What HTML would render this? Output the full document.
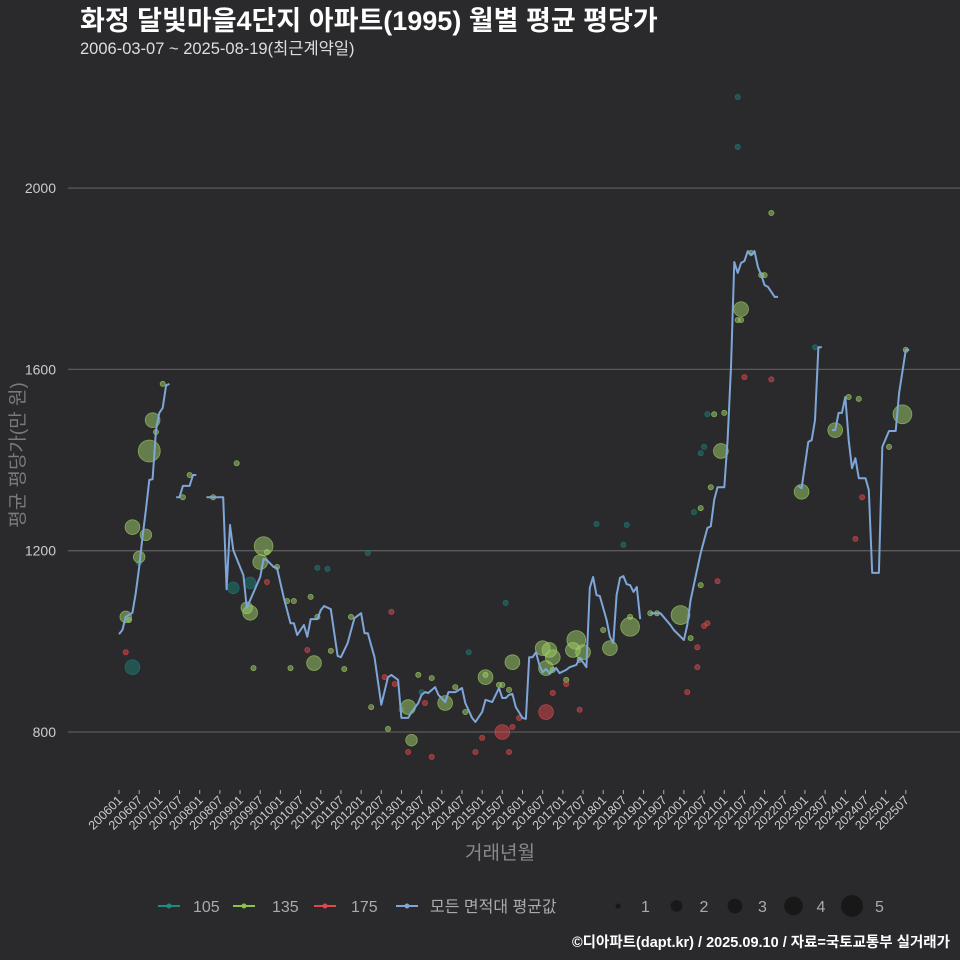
<!DOCTYPE html>
<html><head><meta charset="utf-8">
<style>
html,body{margin:0;padding:0;background:#2a2a2c;}
svg{display:block;font-family:"Liberation Sans","Noto Sans CJK KR",sans-serif;}
</style></head>
<body>
<svg id="chart" width="960" height="960" viewBox="0 0 960 960">
<rect width="960" height="960" fill="#2a2a2c"/>
<text x="80" y="30" fill="#ffffff" font-size="27" font-weight="bold">화정 달빛마을4단지 아파트(1995) 월별 평균 평당가</text>
<text x="80" y="54" fill="#dddddd" font-size="16.5">2006-03-07 ~ 2025-08-19(최근계약일)</text>
<g id="grid"></g>
<g id="bubbles"></g>
<g id="line"></g>
<g id="xaxis"></g>
<text x="24" y="455" fill="#7a7a7a" font-size="19" text-anchor="middle" transform="rotate(-90 24 455)">평균 평당가(만 원)</text>
<text x="500" y="859" fill="#8a8a8a" font-size="19" text-anchor="middle">거래년월</text>
<g>
  <g>
    <line x1="158" y1="906" x2="180" y2="906" stroke="#1f8a80" stroke-width="2"/><circle cx="169" cy="906" r="2.5" fill="#1f8a80"/>
    <text x="193" y="912" fill="#aaaaaa" font-size="16">105</text></g>
  <g>
    <line x1="233" y1="906" x2="255" y2="906" stroke="#8bc34a" stroke-width="2"/><circle cx="244" cy="906" r="2.5" fill="#8bc34a"/>
    <text x="272" y="912" fill="#aaaaaa" font-size="16">135</text></g>
  <g>
    <line x1="314" y1="906" x2="336" y2="906" stroke="#e0474c" stroke-width="2"/><circle cx="325" cy="906" r="2.5" fill="#e0474c"/>
    <text x="351" y="912" fill="#aaaaaa" font-size="16">175</text></g>
  <g>
    <line x1="396" y1="906" x2="418" y2="906" stroke="#7ea6d8" stroke-width="2"/><circle cx="407" cy="906" r="2.5" fill="#7ea6d8"/>
    <text x="430" y="912" fill="#aaaaaa" font-size="16">모든 면적대 평균값</text></g>
</g>
<g id="sizelegend"></g>
<text x="950" y="947" fill="#ffffff" font-size="14.5" font-weight="bold" text-anchor="end">©디아파트(dapt.kr) / 2025.09.10 / 자료=국토교통부 실거래가</text>
</svg>
<script>
// ---- data ----
const yTicks = [800, 1200, 1600, 2000];
const xTickLabels = ["200601","200607","200701","200707","200801","200807","200901","200907","201001","201007","201101","201107","201201","201207","201301","201307","201401","201407","201501","201507","201601","201607","201701","201707","201801","201807","201901","201907","202001","202007","202101","202107","202201","202207","202301","202307","202401","202407","202501","202507"];
// average line segments: [monthIndex from 2006-01, value]
const lineSeg1 = [[0,1016],[1,1025],[2,1054],[4,1063],[5,1107],[6,1164],[7,1230],[8,1290],[9,1356],[10,1358],[11,1466],[12,1504],[13,1515],[14,1565],[15,1568]];
const lineSeg2 = [[17,1318],[18,1318],[19,1343],[21,1343],[22,1367],[23,1367]];
const lineSeg3 = [[26,1318],[31,1318],[32,1115],[33,1257],[34,1201],[37,1146],[38,1074],[42,1142],[43,1182],[44,1179],[46,1164],[47,1162],[49,1096],[51,1040],[52,1040],[53,1014],[55,1036],[56,1010],[57,1049],[59,1049],[60,1069],[61,1078],[63,1071],[65,968],[66,965],[68,996],[70,1051],[72,1062],[73,1018],[74,1018],[76,965],[78,860],[80,921],[81,926],[83,915],[84,831],[86,831],[87,844],[89,864],[90,882],[91,888],[92,886],[94,899],[95,882],[97,866],[98,888],[100,888],[102,897],[103,864],[105,831],[106,822],[108,844],[109,871],[111,866],[113,897],[114,875],[115,875],[116,882],[117,884],[118,855],[120,831],[121,829],[122,965],[123,965],[124,976],[125,948],[126,932],[127,939],[128,930],[130,941],[131,930],[133,937],[134,943],[136,948],[137,963],[138,954],[139,943],[140,1118],[141,1142],[142,1102],[143,1100],[145,1047],[146,1010],[147,996],[148,1102],[149,1140],[150,1144],[151,1126],[152,1124],[153,1109],[154,1120],[155,1049]];
const lineSeg4 = [[158,1062],[161,1062],[164,1036],[165,1025],[168,1003],[169,1036],[170,1091],[173,1195],[175,1250],[176,1254],[177,1312],[178,1340],[180,1340],[181,1444],[182,1605],[183,1837],[184,1813],[185,1835],[186,1839],[187,1861],[188,1852],[189,1861],[190,1826],[191,1808],[192,1786],[193,1782],[195,1760],[196,1760]];
const lineSeg5 = [[202,1343],[203,1338],[205,1440],[206,1444],[207,1488],[208,1649],[209,1649]];
const lineSeg6 = [[212,1466],[213,1466],[214,1504],[215,1504],[216,1539],[217,1444],[218,1382],[219,1404],[220,1360],[222,1360],[223,1334],[224,1151],[226,1151],[227,1429],[229,1464],[231,1464],[232,1548],[234,1643],[235,1643]];
const lineSegments = [lineSeg1,lineSeg2,lineSeg3,lineSeg4,lineSeg5,lineSeg6];
// bubbles: [monthIndex, value, count]
const pts105 = [[4,943,3],[6,1173,1],[34,1118,2],[39,1129,2],[59,1162,1],[62,1160,1],[74,1195,1],[90,888,1],[84,849,1],[104,976,1],[115,1085,1],[142,1259,1],[151,1257,1],[150,1213,1],[171,1285,1],[173,1415,1],[174,1429,1],[175,1501,1],[184,2201,1],[184,2091,1],[207,1649,1]];
const pts135 = [[2,1054,2],[3,1047,1],[4,1252,3],[6,1186,2],[8,1235,2],[9,1420,5],[10,1488,3],[11,1462,1],[13,1568,1],[19,1318,1],[21,1367,1],[28,1318,1],[35,1393,1],[40,941,1],[38,1074,2],[39,1063,3],[42,1175,3],[43,1210,4],[44,1197,1],[47,1164,1],[50,1089,1],[52,1089,1],[51,941,1],[57,1098,1],[58,952,3],[59,1054,1],[67,939,1],[63,979,1],[69,1054,1],[75,855,1],[80,807,1],[86,855,3],[87,782,2],[89,926,1],[93,919,1],[97,864,3],[100,899,1],[103,844,1],[109,926,1],[109,921,3],[113,904,1],[114,904,1],[117,954,3],[116,893,1],[126,985,3],[128,981,3],[129,965,3],[127,941,3],[129,937,1],[135,981,3],[136,1003,4],[138,976,3],[137,959,1],[133,915,1],[146,985,3],[144,1025,1],[152,1032,4],[152,1054,1],[158,1062,1],[160,1062,1],[167,1058,4],[170,1007,1],[173,1124,1],[173,1294,1],[176,1340,1],[179,1420,3],[177,1501,1],[180,1504,1],[184,1709,1],[185,1709,1],[185,1733,3],[188,1857,1],[191,1808,1],[192,1808,1],[194,1945,1],[203,1330,3],[213,1466,3],[217,1539,1],[220,1535,1],[229,1429,1],[233,1501,4],[234,1643,1]];
const pts175 = [[2,976,1],[44,1131,1],[56,981,1],[81,1065,1],[79,921,1],[82,906,1],[91,864,1],[86,756,1],[93,745,1],[108,787,1],[114,800,3],[106,756,1],[116,756,1],[117,811,1],[119,831,1],[127,844,3],[129,886,1],[133,906,1],[137,849,1],[169,888,1],[172,987,1],[172,943,1],[174,1034,1],[175,1040,1],[178,1133,1],[186,1583,1],[194,1578,1],[221,1318,1],[219,1226,1]];
const sizeLegend = [1,2,3,4,5];

// ---- scales ----
const NS = "http://www.w3.org/2000/svg";
const X0 = 119, XPM = 3.3625;
const Y800 = 732, YPU = 181.3/400;
function xs(m){ return X0 + m*XPM; }
function ys(v){ return Y800 - (v-800)*YPU; }
function rad(c){ return [0,2.6,5.8,7.4,9.4,11][c]; }
function mk(tag, attrs, parent){ const e=document.createElementNS(NS,tag); for(const k in attrs) e.setAttribute(k,attrs[k]); parent.appendChild(e); return e; }

const grid = document.getElementById('grid');
yTicks.forEach(v=>{
  const l = mk('line',{x1:68,x2:960,y1:ys(v),y2:ys(v),stroke:'#5a5a5a','stroke-width':1.3},grid);
  
  
  const t = mk('text',{x:56,y:ys(v)+5,fill:'#cccccc','font-size':14,'text-anchor':'end'},grid);
  t.textContent = v;
  
  
});

const xa = document.getElementById('xaxis');
xTickLabels.forEach((lab,i)=>{
  const x = xs(i*6);
  const tk = mk('line',{x1:x,x2:x,y1:790,y2:794,stroke:'#aaaaaa','stroke-width':1},xa);
  
  
  const t = mk('text',{x:x+4,y:801,fill:'#cccccc','font-size':12.5,'text-anchor':'end',transform:`rotate(-45 ${x+4} 801)`},xa);
  t.textContent = lab;
  
  
});

const bg = document.getElementById('bubbles');
function drawPts(arr, col, name){
  arr.forEach(p=>{
    const c = mk('circle',{cx:xs(p[0]),cy:ys(p[1]),r:rad(p[2]),fill:col,'fill-opacity':0.5,stroke:col,'stroke-opacity':0.7,'stroke-width':0.8},bg);
    
    
  });
}
drawPts(pts105,'#1d7d75','bubble-105');
drawPts(pts135,'#9fd067','bubble-135');
drawPts(pts175,'#e0474c','bubble-175');

const lg = document.getElementById('line');
lineSegments.forEach(seg=>{
  const d = seg.map((p,i)=>(i?'L':'M')+xs(p[0]).toFixed(1)+','+ys(p[1]).toFixed(1)).join(' ');
  const pth = mk('path',{d:d,fill:'none',stroke:'#7ea6d8','stroke-width':2,'stroke-linejoin':'round'},lg);
  
  
});

const sl = document.getElementById('sizelegend');
sizeLegend.forEach((c,i)=>{
  const cx = 618 + i*58.5;
  const ci = mk('circle',{cx:cx,cy:906,r:rad(c),fill:'#111111','fill-opacity':0.7},sl);
  
  
  const t = mk('text',{x:cx+23,y:912,fill:'#aaaaaa','font-size':16},sl);
  t.textContent = c;
  
  
});
</script>
</body></html>
